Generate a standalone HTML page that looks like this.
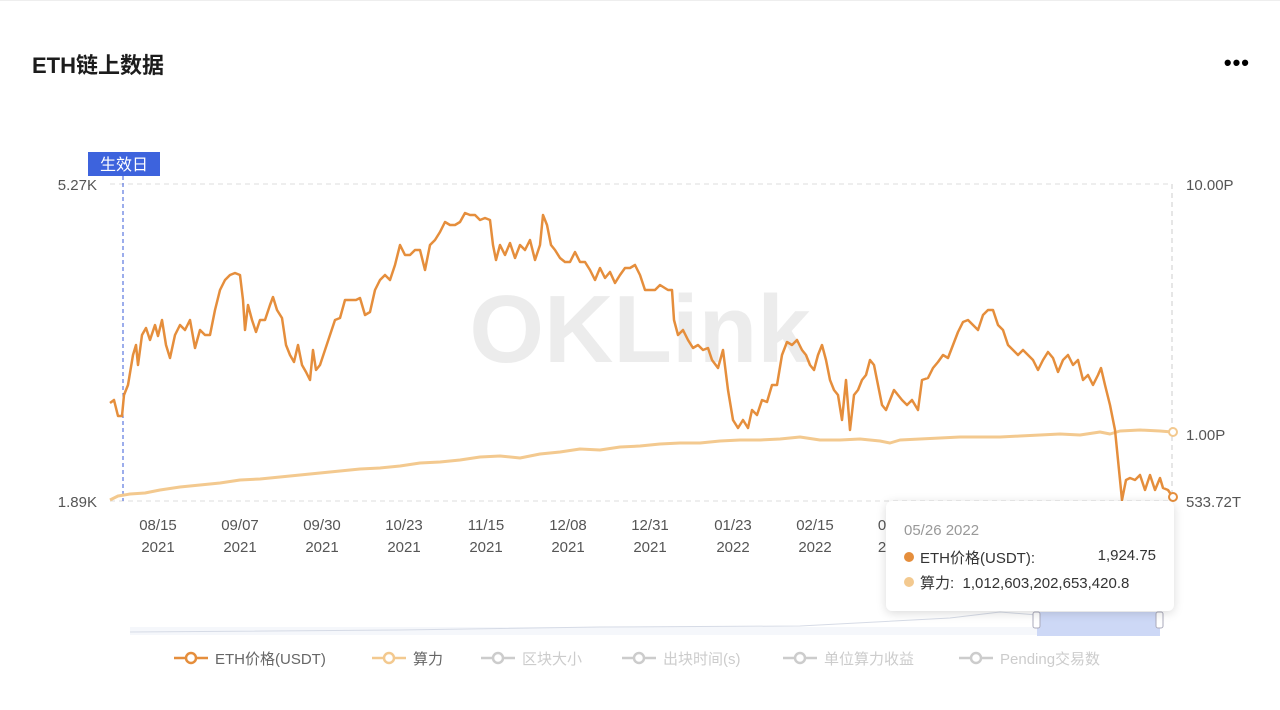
<!DOCTYPE html>
<html><head><meta charset="utf-8"><style>
body{margin:0;width:1280px;height:710px;background:#fff;font-family:"Liberation Sans","Noto Sans CJK SC",sans-serif;overflow:hidden;position:relative}
.t{position:absolute;left:32px;top:48px;font-size:22px;font-weight:bold;color:#1c1c1c}
.dots{position:absolute;right:30px;top:50px;font-size:22px;font-weight:bold;letter-spacing:1px}
</style></head><body>
<div style="position:absolute;left:0;top:0;width:1280px;height:1px;background:#eee"></div>
<div class="t">ETH链上数据</div>
<div class="dots">•••</div>
<svg width="1280" height="710" style="position:absolute;left:0;top:0" font-family="Liberation Sans, Noto Sans CJK SC, sans-serif">
<text x="640" y="362" font-size="96" font-weight="bold" fill="#ececec" text-anchor="middle">OKLink</text>
<line x1="110" y1="184" x2="1172" y2="184" stroke="#ddd" stroke-dasharray="5,4"/>
<line x1="110" y1="501" x2="1172" y2="501" stroke="#ddd" stroke-dasharray="5,4"/>
<line x1="1172" y1="184" x2="1172" y2="501" stroke="#ccc" stroke-dasharray="5,4"/>
<line x1="123" y1="176" x2="123" y2="501" stroke="#3a5bd9" stroke-dasharray="4,3"/>
<rect x="88" y="152" width="72" height="24" fill="#3d63dd"/>
<text x="124" y="170" font-size="16" fill="#fff" text-anchor="middle">生效日</text>
<g font-size="15" fill="#555">
<text x="97" y="190" text-anchor="end">5.27K</text>
<text x="97" y="507" text-anchor="end">1.89K</text>
<text x="1186" y="190">10.00P</text>
<text x="1186" y="440">1.00P</text>
<text x="1186" y="507">533.72T</text>
</g>
<g font-size="15" fill="#555" text-anchor="middle">
<text x="158" y="530">08/15</text><text x="158" y="552">2021</text>
<text x="240" y="530">09/07</text><text x="240" y="552">2021</text>
<text x="322" y="530">09/30</text><text x="322" y="552">2021</text>
<text x="404" y="530">10/23</text><text x="404" y="552">2021</text>
<text x="486" y="530">11/15</text><text x="486" y="552">2021</text>
<text x="568" y="530">12/08</text><text x="568" y="552">2021</text>
<text x="650" y="530">12/31</text><text x="650" y="552">2021</text>
<text x="733" y="530">01/23</text><text x="733" y="552">2022</text>
<text x="815" y="530">02/15</text><text x="815" y="552">2022</text>
<text x="882" y="530">0</text><text x="882" y="552">2</text>
</g>
<polyline fill="none" stroke="#f3c98f" stroke-width="3" stroke-linejoin="round" points="110,500 118,496 130,494 145,493 160,490 180,487 200,485 220,483 240,480 260,479 280,477 300,475 320,473 340,471 360,469 380,468 400,466 420,463 440,462 460,460 480,457 500,456 520,458 540,454 560,452 580,449 600,450 620,447 640,446 660,444 680,443 700,443 720,441 740,440 760,440 780,439 800,437 820,440 840,440 860,439 880,441 890,443 900,440 920,439 940,438 960,437 980,437 1000,437 1020,436 1040,435 1060,434 1080,435 1100,432 1110,434 1120,431 1140,430 1160,431 1172,432"/>
<polyline fill="none" stroke="#e58e3c" stroke-width="2.5" stroke-linejoin="round" points="110,403 114,400 118,416 122,416 124,395 128,385 133,355 136,345 138,365 142,335 146,328 150,340 155,325 158,336 162,320 166,345 170,358 175,335 180,325 185,330 190,320 195,348 200,330 205,335 210,335 215,310 220,290 225,280 230,275 235,273 240,275 243,300 245,330 248,305 252,320 256,332 260,320 265,320 270,305 273,297 277,310 282,318 286,345 290,355 294,362 298,345 302,365 306,372 310,380 313,350 316,370 320,365 325,350 330,335 335,320 340,318 345,300 350,300 356,300 360,298 365,315 370,312 375,290 380,280 385,275 390,280 395,265 400,245 405,255 410,255 415,250 420,250 425,270 430,245 435,240 440,232 445,222 450,225 455,225 460,222 465,213 470,215 475,215 480,220 485,218 490,220 493,245 496,260 500,245 505,255 510,243 515,258 520,245 525,250 530,240 535,260 540,245 543,215 547,225 551,245 555,250 560,258 565,262 570,262 575,252 580,262 585,262 590,270 595,280 600,268 605,278 610,272 615,283 620,275 625,268 630,268 635,265 640,275 645,290 650,290 655,290 660,285 668,290 672,290 674,320 678,335 683,330 688,340 693,348 698,345 703,350 708,348 712,360 718,368 723,350 728,390 733,420 738,428 743,420 748,428 752,410 757,415 762,400 767,402 772,385 777,385 782,355 787,342 792,345 797,340 802,350 806,355 810,365 814,370 818,355 822,345 826,360 830,380 834,390 838,395 842,420 846,380 850,430 854,395 858,390 862,380 866,375 870,360 874,365 878,385 882,405 886,410 890,400 894,390 898,395 902,400 907,405 912,400 918,410 922,380 928,378 933,368 938,362 943,355 948,358 953,345 958,332 963,322 968,320 973,325 978,330 983,315 988,310 993,310 998,325 1003,330 1008,345 1013,350 1018,355 1023,350 1028,355 1033,360 1038,370 1043,360 1048,352 1053,358 1058,372 1063,360 1068,355 1073,365 1078,360 1083,380 1088,375 1093,385 1098,375 1101,368 1105,385 1110,405 1115,430 1118,460 1122,500 1126,480 1130,478 1135,480 1140,475 1145,490 1150,475 1155,490 1160,478 1163,488 1168,490 1172,496"/>
<circle cx="1173" cy="432" r="4" fill="#fff" stroke="#f3c98f" stroke-width="2"/>
<circle cx="1173" cy="497" r="4" fill="#fff" stroke="#e58e3c" stroke-width="2"/>
<rect x="130" y="627" width="1030" height="8" fill="#f5f7fb"/>
<polyline fill="none" stroke="#d6dbe6" points="130,632 400,630 600,627 800,626 950,618 1000,612 1037,615"/>
<rect x="1037" y="612" width="123" height="24" fill="#cdd8f6"/>
<rect x="1033" y="612" width="7" height="16" rx="2" fill="#fff" stroke="#aab"/>
<rect x="1156" y="612" width="7" height="16" rx="2" fill="#fff" stroke="#aab"/>
<g font-size="15">
<line x1="174" y1="658" x2="208" y2="658" stroke="#e58e3c" stroke-width="2.5"/><circle cx="191" cy="658" r="5" fill="#fff" stroke="#e58e3c" stroke-width="2.5"/><text x="215" y="664" fill="#666">ETH价格(USDT)</text>
<line x1="372" y1="658" x2="406" y2="658" stroke="#f3c98f" stroke-width="2.5"/><circle cx="389" cy="658" r="5" fill="#fff" stroke="#f3c98f" stroke-width="2.5"/><text x="413" y="664" fill="#666">算力</text>
<g stroke="#ccc" stroke-width="2.5" fill="#fff">
<line x1="481" y1="658" x2="515" y2="658"/><circle cx="498" cy="658" r="5"/>
<line x1="622" y1="658" x2="656" y2="658"/><circle cx="639" cy="658" r="5"/>
<line x1="783" y1="658" x2="817" y2="658"/><circle cx="800" cy="658" r="5"/>
<line x1="959" y1="658" x2="993" y2="658"/><circle cx="976" cy="658" r="5"/>
</g>
<g fill="#ccc"><text x="522" y="664">区块大小</text><text x="663" y="664">出块时间(s)</text><text x="824" y="664">单位算力收益</text><text x="1000" y="664">Pending交易数</text></g>
</g>
</svg>
<div style="position:absolute;left:886px;top:501px;width:288px;height:110px;background:#fff;border-radius:6px;box-shadow:0 2px 10px rgba(0,0,0,.15);font-size:15px;color:#333">
<div style="position:absolute;left:18px;top:21px;color:#999">05/26 2022</div>
<div style="position:absolute;left:18px;top:46px;width:10px;height:10px;border-radius:5px;background:#e58e3c;margin-top:5px"></div>
<div style="position:absolute;left:34px;top:46px">ETH价格(USDT):</div>
<div style="position:absolute;right:18px;top:46px">1,924.75</div>
<div style="position:absolute;left:18px;top:71px;width:10px;height:10px;border-radius:5px;background:#f3c98f;margin-top:5px"></div>
<div style="position:absolute;left:34px;top:71px">算力:&nbsp;&nbsp;1,012,603,202,653,420.8</div>
</div>
</body></html>
